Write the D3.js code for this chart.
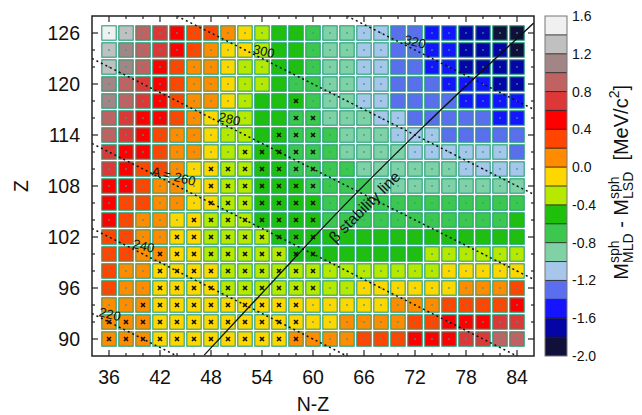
<!DOCTYPE html>
<html><head><meta charset="utf-8">
<script src="https://cdn.jsdelivr.net/npm/d3@7"></script>
<style>
body{margin:0;background:#fff}
svg{display:block;font-family:"Liberation Sans",Arial,Helvetica,sans-serif}
</style>
</head><body>
<svg id="chart" width="642" height="415"></svg>
<script>
// ---------- data ----------
const nzValues = [36,38,40,42,44,46,48,50,52,54,56,58,60,62,64,66,68,70,72,74,76,78,80,82,84];
const zValues = [126,124,122,120,118,116,114,112,110,108,106,104,102,100,98,96,94,92,90];
// M_MLD^sph - M_LSD^sph (MeV/c^2), one row per Z (top to bottom), one column per N-Z
const cellValues = [
 [1.5,1.3,0.9,0.7,0.5,0.3,0.3,0.1,-0.1,-0.3,-0.5,-0.5,-0.7,-0.9,-0.9,-1.1,-1.1,-1.3,-1.3,-1.5,-1.5,-1.7,-1.7,-1.9,-1.9],
 [1.3,1.1,0.9,0.7,0.5,0.3,0.1,-0.1,-0.1,-0.3,-0.5,-0.5,-0.7,-0.9,-0.9,-1.1,-1.1,-1.3,-1.3,-1.5,-1.5,-1.7,-1.7,-1.7,-1.9],
 [1.3,1.1,0.9,0.5,0.3,0.1,0.1,-0.1,-0.3,-0.3,-0.5,-0.5,-0.7,-0.9,-0.9,-1.1,-1.1,-1.3,-1.3,-1.5,-1.5,-1.7,-1.7,-1.7,-1.7],
 [1.1,0.9,0.7,0.5,0.3,0.1,0.1,-0.1,-0.3,-0.3,-0.5,-0.7,-0.7,-0.9,-0.9,-1.1,-1.1,-1.3,-1.3,-1.3,-1.5,-1.5,-1.5,-1.7,-1.7],
 [1.1,0.9,0.7,0.5,0.3,0.1,0.1,-0.1,-0.3,-0.5,-0.5,-0.5,-0.7,-0.9,-0.9,-1.1,-1.1,-1.3,-1.3,-1.3,-1.3,-1.5,-1.5,-1.5,-1.5],
 [0.9,0.7,0.5,0.5,0.3,0.1,-0.1,-0.3,-0.3,-0.5,-0.5,-0.7,-0.7,-0.9,-0.9,-0.9,-1.1,-1.1,-1.3,-1.3,-1.3,-1.3,-1.3,-1.5,-1.5],
 [0.9,0.7,0.5,0.3,0.1,0.1,-0.1,-0.3,-0.3,-0.5,-0.5,-0.7,-0.7,-0.7,-0.9,-0.9,-0.9,-1.1,-1.1,-1.1,-1.3,-1.3,-1.3,-1.3,-1.3],
 [0.7,0.5,0.5,0.3,0.1,0.1,-0.1,-0.3,-0.3,-0.5,-0.5,-0.7,-0.7,-0.7,-0.9,-0.9,-0.9,-0.9,-1.1,-1.1,-1.1,-1.1,-1.1,-1.1,-1.3],
 [0.7,0.5,0.3,0.3,0.1,-0.1,-0.1,-0.3,-0.3,-0.5,-0.5,-0.7,-0.7,-0.7,-0.7,-0.9,-0.9,-0.9,-0.9,-0.9,-0.9,-1.1,-1.1,-1.1,-1.1],
 [0.5,0.5,0.3,0.1,0.1,-0.1,-0.1,-0.3,-0.3,-0.5,-0.5,-0.5,-0.7,-0.7,-0.7,-0.7,-0.9,-0.9,-0.9,-0.9,-0.9,-0.9,-0.9,-0.9,-0.9],
 [0.5,0.3,0.3,0.1,0.1,-0.1,-0.1,-0.3,-0.3,-0.5,-0.5,-0.5,-0.5,-0.7,-0.7,-0.7,-0.7,-0.7,-0.7,-0.7,-0.7,-0.7,-0.7,-0.7,-0.7],
 [0.5,0.3,0.1,0.1,-0.1,-0.1,-0.3,-0.3,-0.3,-0.5,-0.5,-0.5,-0.5,-0.7,-0.7,-0.7,-0.7,-0.7,-0.7,-0.7,-0.7,-0.7,-0.7,-0.7,-0.5],
 [0.3,0.3,0.1,0.1,-0.1,-0.1,-0.3,-0.3,-0.3,-0.3,-0.5,-0.5,-0.5,-0.5,-0.5,-0.5,-0.5,-0.5,-0.5,-0.5,-0.5,-0.5,-0.5,-0.5,-0.5],
 [0.3,0.3,0.1,0.1,-0.1,-0.1,-0.3,-0.3,-0.3,-0.3,-0.3,-0.5,-0.5,-0.5,-0.5,-0.5,-0.5,-0.5,-0.5,-0.3,-0.3,-0.3,-0.3,-0.3,-0.3],
 [0.3,0.1,0.1,-0.1,-0.1,-0.1,-0.1,-0.3,-0.3,-0.3,-0.3,-0.3,-0.3,-0.3,-0.3,-0.3,-0.3,-0.3,-0.3,-0.3,-0.1,-0.1,-0.1,-0.1,-0.1],
 [0.3,0.1,0.1,-0.1,-0.1,-0.1,-0.1,-0.3,-0.3,-0.3,-0.3,-0.3,-0.3,-0.3,-0.3,-0.1,-0.1,-0.1,-0.1,-0.1,-0.1,0.1,0.1,0.1,0.3],
 [0.1,0.1,0.1,-0.1,-0.1,-0.1,-0.1,-0.1,-0.1,-0.1,-0.1,-0.1,-0.1,-0.1,-0.1,-0.1,-0.1,0.1,0.1,0.1,0.3,0.3,0.3,0.3,0.5],
 [0.1,0.1,0.1,-0.1,-0.1,-0.1,-0.1,-0.1,-0.1,-0.1,-0.1,-0.1,-0.1,-0.1,0.1,0.1,0.1,0.1,0.3,0.3,0.5,0.5,0.5,0.7,0.7],
 [0.1,0.1,0.1,-0.1,-0.1,-0.1,-0.1,-0.1,-0.1,-0.1,-0.1,0.1,0.1,0.1,0.1,0.3,0.3,0.3,0.5,0.5,0.5,0.7,0.7,0.9,0.9]
];
// cells marked with a cross: N-Z range per Z row (null = none)
const markFrom = [null,null,null,null,58,58,56,52,48,48,48,46,44,42,42,42,40,36,36];
const markTo   = [null,null,null,null,58,60,60,60,60,60,60,60,60,60,60,60,58,58,58];

const xTickValues = [36,42,48,54,60,66,72,78,84];
const yTickValues = [90,96,102,108,114,120,126];
const cbTickValues = [1.6,1.2,0.8,0.4,0.0,-0.4,-0.8,-1.2,-1.6,-2.0];
const cbBinEdges = [-2.0,-1.8,-1.6,-1.4,-1.2,-1.0,-0.8,-0.6,-0.4,-0.2,0.0,0.2,0.4,0.6,0.8,1.0,1.2,1.4,1.6];
const binColors = ["#10103a","#0505a5","#1414ff","#5c6ef0","#a6c6ea","#80d2a6","#3cc84e","#1ec00c","#b6e800","#ffd700","#ff8c00","#ff4500","#ff0000","#dc3838","#c06262","#a28686","#c0c0c0","#f0f0f0"];

const isobarA = [220,240,260,280,300,320];
const isobarLabelText = ["220","240","A = 260","280","300","320"];
const isobarLabelNZ = [35.9,39.85,43.4,49.96,54.0,71.8];

const betaLine = [[47.2,88.1],[55.4,96.9],[62.6,104.6],[72.6,114.6],[86.0,127.2]];
const betaLabel = {text:"\u03b2 stability line", nz:65.0, z:106.6};

// ---------- chart ----------
const svg = d3.select("#chart");
const L = 92, R = 534, T = 16, B = 356;
const x = d3.scaleLinear().domain([34,86]).range([L,R]);
const y = d3.scaleLinear().domain([88,128]).range([B,T]);
const color = d3.scaleThreshold().domain(cbBinEdges.slice(1,-1)).range(binColors);

svg.append("defs").append("clipPath").attr("id","clip")
  .append("rect").attr("x",L).attr("y",T).attr("width",R-L).attr("height",B-T);

const cells = [];
zValues.forEach((z,i)=>nzValues.forEach((nz,j)=>{
  const m = markFrom[i]!=null && nz>=markFrom[i] && nz<=markTo[i];
  cells.push({z,nz,v:cellValues[i][j],mark:m});
}));

const cs = 14.4;
const gc = svg.append("g");
gc.selectAll("rect").data(cells).join("rect")
  .attr("x",d=>x(d.nz)-cs/2).attr("y",d=>y(d.z)-cs/2)
  .attr("width",cs).attr("height",cs)
  .attr("fill",d=>color(d.v))
  .attr("stroke","#22a07a").attr("stroke-width",1.1);

gc.selectAll("rect.dot").data(cells.filter(d=>!d.mark)).join("rect").attr("class","dot")
  .attr("x",d=>x(d.nz)-1).attr("y",d=>y(d.z)-0.6).attr("width",2).attr("height",1.2)
  .attr("fill","#2e9c9c");

gc.selectAll("path.mk").data(cells.filter(d=>d.mark)).join("path").attr("class","mk")
  .attr("d",d=>{const cx=x(d.nz), cy=y(d.z), s=2.0;
    return `M${cx-s},${cy-s}L${cx+s},${cy+s}M${cx-s},${cy+s}L${cx+s},${cy-s}`;})
  .attr("stroke","#111").attr("stroke-width",1.6);

// isobars
const lineGen = d3.line().x(d=>x(d[0])).y(d=>y(d[1]));
const gl = svg.append("g").attr("clip-path","url(#clip)");
isobarA.forEach(A=>{
  const pts = [[34,(A-34)/2],[86,(A-86)/2]];
  gl.append("path").attr("d",lineGen(pts)).attr("fill","none")
    .attr("stroke","#111").attr("stroke-width",1.5).attr("stroke-dasharray","2,3");
});
const isoAngle = Math.atan2(y(0)-y(0.5), x(2)-x(0))*180/Math.PI;
isobarA.forEach((A,i)=>{
  const nz = isobarLabelNZ[i], z = (A-nz)/2;
  svg.append("text").attr("transform",`translate(${x(nz)},${y(z)}) rotate(${isoAngle})`)
    .attr("y",-3).attr("text-anchor","middle").attr("font-size",13).attr("fill","#111")
    .text(isobarLabelText[i]);
});

// beta stability line
gl.append("path").attr("d",d3.line().x(d=>x(d[0])).y(d=>y(d[1])).curve(d3.curveMonotoneX)(betaLine))
  .attr("fill","none").attr("stroke","#111").attr("stroke-width",1.3);
const bAngle = Math.atan2(y(betaLine[3][1])-y(betaLine[2][1]), x(betaLine[3][0])-x(betaLine[2][0]))*180/Math.PI;
svg.append("text").attr("transform",`translate(${x(betaLabel.nz)},${y(betaLabel.z)}) rotate(${bAngle})`)
  .attr("y",18).attr("text-anchor","middle").attr("font-size",15.5).attr("fill","#111")
  .text(betaLabel.text);

// frame and ticks
svg.append("rect").attr("x",L).attr("y",T).attr("width",R-L).attr("height",B-T)
  .attr("fill","none").attr("stroke","#222").attr("stroke-width",1.5);
const gt = svg.append("g").attr("stroke","#222").attr("stroke-width",1.2);
nzValues.forEach(v=>{
  const len = xTickValues.includes(v)?6:3;
  gt.append("line").attr("x1",x(v)).attr("x2",x(v)).attr("y1",B).attr("y2",B-len);
  gt.append("line").attr("x1",x(v)).attr("x2",x(v)).attr("y1",T).attr("y2",T+len);
});
zValues.forEach(v=>{
  const len = yTickValues.includes(v)?6:3;
  gt.append("line").attr("y1",y(v)).attr("y2",y(v)).attr("x1",L).attr("x2",L+len);
  gt.append("line").attr("y1",y(v)).attr("y2",y(v)).attr("x1",R).attr("x2",R-len);
});
svg.append("g").selectAll("text").data(xTickValues).join("text")
  .attr("x",d=>x(d)).attr("y",384).attr("text-anchor","middle").attr("font-size",19.5).attr("fill","#111")
  .text(d=>d);
svg.append("g").selectAll("text").data(yTickValues).join("text")
  .attr("x",80).attr("y",d=>y(d)).attr("dy","0.36em").attr("text-anchor","end").attr("font-size",19.5).attr("fill","#111")
  .text(d=>d);
svg.append("text").attr("x",(L+R)/2).attr("y",411).attr("text-anchor","middle")
  .attr("font-size",19.5).attr("fill","#111").text("N-Z");
svg.append("text").attr("transform","translate(28,186) rotate(-90)").attr("text-anchor","middle")
  .attr("font-size",19.5).attr("fill","#111").text("Z");

// colorbar
const cbX = 545, cbW = 22;
const cy = d3.scaleLinear().domain([-2.0,1.6]).range([B,T]);
const bins = binColors.map((c,i)=>({lo:cbBinEdges[i],hi:cbBinEdges[i+1],c}));
const gcb = svg.append("g");
gcb.selectAll("rect").data(bins).join("rect")
  .attr("x",cbX).attr("y",d=>cy(d.hi)).attr("width",cbW).attr("height",d=>cy(d.lo)-cy(d.hi))
  .attr("fill",d=>d.c);
gcb.selectAll("line").data(cbBinEdges.slice(1,-1)).join("line")
  .attr("x1",cbX).attr("x2",cbX+cbW).attr("y1",d=>cy(d)).attr("y2",d=>cy(d))
  .attr("stroke","#111").attr("stroke-width",0.8);
gcb.append("rect").attr("x",cbX).attr("y",T).attr("width",cbW).attr("height",B-T)
  .attr("fill","none").attr("stroke","#777").attr("stroke-width",1);
gcb.selectAll("text").data(cbTickValues).join("text")
  .attr("x",572).attr("y",d=>cy(d)).attr("dy","0.36em").attr("font-size",14).attr("fill","#111")
  .text(d=>d.toFixed(1));

// colorbar title (rotated, with super/subscripts)
const tg = svg.append("g");
const inner = tg.append("g");
let pos = 0;
function piece(txt,size,dy){
  const t = inner.append("text").attr("x",pos).attr("y",dy).attr("font-size",size).attr("fill","#111")
    .attr("xml:space","preserve").text(txt);
  return t.node().getComputedTextLength();
}
function stack(sup,sub){
  const w1 = piece(sup,14,-9), w2 = piece(sub,14,4.5);
  pos += Math.max(w1,w2);
}
pos += piece("M",20,0); stack("sph","MLD");
pos += piece("\u00a0-\u00a0",20,0);
pos += piece("M",20,0); stack("sph","LSD");
pos += piece("\u00a0\u00a0[MeV/c",20,0);
pos += piece("2",14,-9);
pos += piece("]",20,0);
const endY = 85;
tg.attr("transform",`translate(628,${endY+pos}) rotate(-90)`);
</script>
</body></html>
